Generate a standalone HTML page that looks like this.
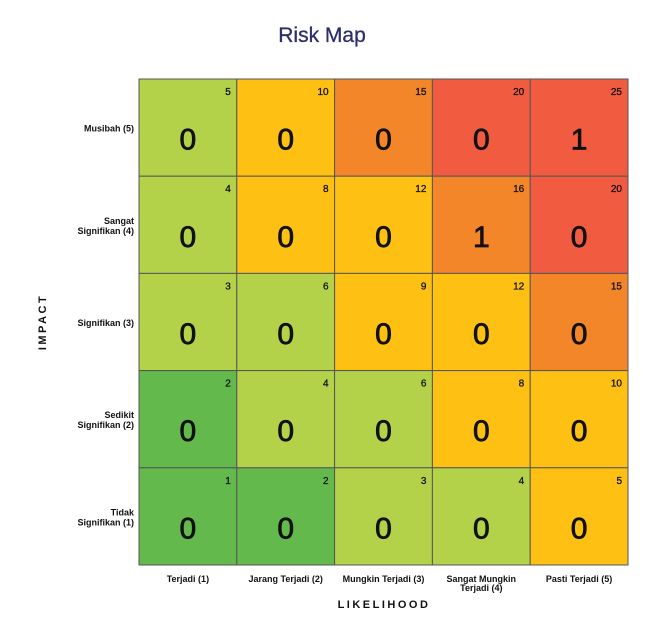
<!DOCTYPE html>
<html><head><meta charset="utf-8"><style>
body{margin:0;background:#fff;font-family:"Liberation Sans",sans-serif;}
#wrap{position:relative;width:660px;height:622px;overflow:hidden;}
</style></head><body>
<div id="wrap">
<svg id="chart" width="660" height="622" xmlns="http://www.w3.org/2000/svg">
<text x="322" y="42" text-anchor="middle" font-size="21" fill="#2b2e6b" stroke="#2b2e6b" stroke-width="0.3">Risk Map</text>
<text x="384" y="608" text-anchor="middle" font-size="11" font-weight="bold" letter-spacing="2.5" fill="#111">LIKELIHOOD</text>
<text transform="translate(46,322) rotate(-90)" text-anchor="middle" font-size="11" font-weight="bold" letter-spacing="2.5" fill="#111">IMPACT</text>
<g id="cells"></g>
</svg>
</div>
<script>
const likelihoodLabels = [["Terjadi (1)"],["Jarang Terjadi (2)"],["Mungkin Terjadi (3)"],["Sangat Mungkin","Terjadi (4)"],["Pasti Terjadi (5)"]];
const impactLabels = [["Musibah (5)"],["Sangat","Signifikan (4)"],["Signifikan (3)"],["Sedikit","Signifikan (2)"],["Tidak","Signifikan (1)"]];
const impactValues = [5,4,3,2,1];
const likelihoodValues = [1,2,3,4,5];
const counts = [[0,0,0,0,1],[0,0,0,1,0],[0,0,0,0,0],[0,0,0,0,0],[0,0,0,0,0]];
const levels = [["lg","y","o","r","r"],["lg","y","y","o","r"],["lg","lg","y","y","o"],["g","lg","lg","y","y"],["g","g","lg","lg","y"]];
const palette = {g:"#63b94b",lg:"#b3d24a",y:"#fdc013",o:"#f4862a",r:"#f15c40"};
const X0=139,Y0=79,W=489,H=486;
const cw=W/likelihoodValues.length, ch=H/impactValues.length;
const xPos=i=>X0+i*cw, yPos=j=>Y0+j*ch;
const NS="http://www.w3.org/2000/svg";
const g=document.getElementById('cells');
function mk(tag,attrs,txt){const e=document.createElementNS(NS,tag);for(const k in attrs)e.setAttribute(k,attrs[k]);if(txt!==undefined)e.textContent=txt;g.appendChild(e);return e;}
impactValues.forEach((iv,j)=>{
  likelihoodValues.forEach((lv,i)=>{
    const r=mk('rect',{x:xPos(i),y:yPos(j),width:cw,height:ch,fill:palette[levels[j][i]],stroke:"#555","stroke-width":1});
    
    
    const s=mk('text',{x:xPos(i)+cw-6,y:yPos(j)+16,"text-anchor":"end","font-size":10,fill:"#111",stroke:"#111","stroke-width":0.3},iv*lv);
    
    
    const c=mk('text',{x:xPos(i)+cw/2,y:yPos(j)+ch/2+22,"text-anchor":"middle","font-size":30,fill:"#111",stroke:"#111","stroke-width":0.8},counts[j][i]);
    
    
  });
  const lines=impactLabels[j];
  lines.forEach((t,k)=>{
    const e=mk('text',{x:X0-5,y:yPos(j)+ch/2+4+(k-(lines.length-1)/2)*10,"text-anchor":"end","font-size":9,"font-weight":"bold",fill:"#111"},t);
    
    
  });
});
likelihoodLabels.forEach((lines,i)=>{
  lines.forEach((t,k)=>{
    const e=mk('text',{x:xPos(i)+cw/2,y:Y0+H+17+k*9,"text-anchor":"middle","font-size":9,"font-weight":"bold",fill:"#111"},t);
    
    
  });
});
</script>
</body></html>
